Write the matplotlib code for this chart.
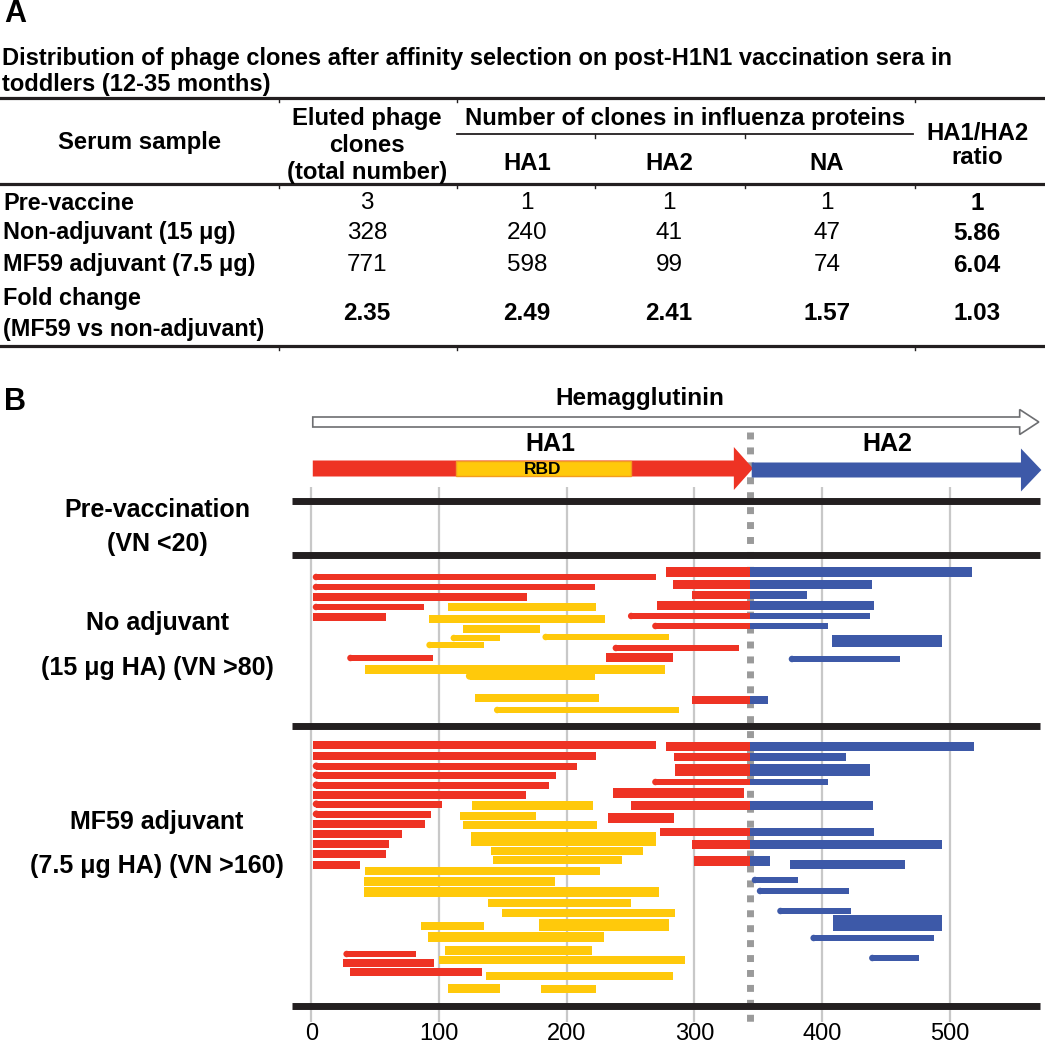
import matplotlib.pyplot as plt
import matplotlib.patches as mpatches

plt.rcParams['font.family'] = ['Liberation Sans', 'DejaVu Sans']

# ---------------- panel A : table ----------------
title_lines = ['Distribution of phage clones after affinity selection on post-H1N1 vaccination sera in',
               'toddlers (12-35 months)']
row_labels = ['Pre-vaccine', 'Non-adjuvant (15 \u03bcg)', 'MF59 adjuvant (7.5 \u03bcg)',
              'Fold change\n(MF59 vs non-adjuvant)']
eluted = ['3', '328', '771', '2.35']
ha1 = ['1', '240', '598', '2.49']
ha2 = ['1', '41', '99', '2.41']
na = ['1', '47', '74', '1.57']
ratio = ['1', '5.86', '6.04', '1.03']

# ---------------- panel B : clone map ----------------
ticks = [0, 100, 200, 300, 400, 500]
boundary = 344          # HA1 / HA2 junction
ha_end = 570
rbd = (113, 250)
group_labels = ['Pre-vaccination\n(VN <20)', 'No adjuvant', '(15 \u03bcg HA) (VN >80)',
                'MF59 adjuvant', '(7.5 \u03bcg HA) (VN >160)']

# no adjuvant clones: start, end, row (px), thickness (px), RBD-only, rounded start
na_start = [1, 278, 1, 283, 1, 298, 1, 107, 271, 1, 92, 248, 119, 267, 109, 181, 408, 90,
            236, 28, 231, 374, 42, 121, 128, 298, 143]
na_end = [270, 518, 222, 439, 169, 388, 88, 223, 441, 58, 230, 438, 179, 405, 148, 280, 494, 135,
          335, 95, 283, 461, 277, 222, 225, 358, 288]
na_row = [577, 572, 587, 584, 597, 595, 607, 607, 605, 617, 619, 616, 629, 626, 638, 637, 641, 645,
          648, 658, 657, 659, 669, 676, 698, 700, 710]
na_h = [6.5, 10, 6.5, 9, 7.5, 7.5, 6.5, 8, 9, 8, 8, 6.5, 7.5, 6.5, 6.5, 6.5, 12, 6.5, 6.5, 6.5, 9,
        6.5, 9, 7.5, 8, 8, 6.5]
na_rbd = [0, 0, 0, 0, 0, 0, 0, 1, 0, 0, 1, 0, 1, 0, 1, 1, 0, 1, 0, 0, 0, 0, 1, 1, 1, 0, 1]
na_round = [1, 0, 1, 0, 0, 0, 1, 0, 0, 0, 0, 1, 0, 1, 1, 1, 0, 1, 1, 1, 0, 1, 0, 1, 0, 0, 1]

# MF59 adjuvant clones
mf_start = [1, 278, 1, 284, 1, 285, 1, 1, 267, 1, 236, 1, 126, 250, 1, 116, 232, 1, 119, 1, 125,
            273, 1, 298, 1, 141, 142, 300, 375, 1, 42, 41, 345, 41, 349, 138, 149, 365, 86, 178,
            409, 91, 391, 105, 25, 437, 25, 100, 30, 137, 107, 180]
mf_end = [270, 519, 223, 419, 208, 438, 192, 186, 405, 168, 339, 102, 221, 440, 94, 176, 284, 89,
          224, 71, 270, 441, 61, 494, 58, 260, 243, 359, 465, 38, 226, 191, 381, 272, 421, 250,
          285, 423, 135, 280, 494, 229, 488, 220, 82, 476, 96, 293, 134, 283, 148, 223]
mf_row = [745, 746, 756, 757, 766, 770, 775, 785, 782, 795, 793, 804, 805, 805, 814, 816, 818, 824,
          825, 834, 839, 832, 844, 844, 854, 851, 860, 861, 864, 865, 871, 881, 880, 892, 891, 903,
          913, 911, 926, 925, 923, 937, 938, 950, 954, 958, 963, 960, 972, 976, 988, 989]
mf_h = [7.5, 9, 7.5, 8, 7, 12, 7, 7, 6.5, 7.5, 10, 7, 9, 9, 7, 8, 10, 7.5, 8, 7.5, 14, 8, 8, 9,
        8, 8, 8, 10, 9, 7.5, 8, 9, 6.5, 10, 6.5, 8, 8, 6.5, 8, 12, 16, 10, 6.5, 9, 6.5, 6.5, 8, 8,
        8, 8, 9, 8]
mf_rbd = [0, 0, 0, 0, 0, 0, 0, 0, 0, 0, 0, 0, 1, 0, 0, 1, 0, 0, 1, 0, 1, 0, 0, 0, 0, 1, 1, 0,
          0, 0, 1, 1, 0, 1, 0, 1, 1, 0, 1, 1, 0, 1, 0, 1, 0, 0, 0, 1, 0, 1, 1, 1]
mf_round = [0, 0, 0, 0, 1, 0, 1, 1, 1, 0, 0, 1, 0, 0, 1, 0, 0, 0, 0, 0, 0, 0, 0, 0, 0, 0, 0, 0,
            0, 0, 0, 0, 1, 0, 1, 0, 0, 1, 0, 0, 0, 0, 1, 0, 1, 1, 0, 0, 0, 0, 0, 0]

RED = '#ee3324'
YEL = '#ffc90b'
BLUE = '#3d59a8'
BLACK = '#231f20'
PX = 1.276   # pixels per residue

fig = plt.figure(figsize=(10.45, 10.5), dpi=100)
axA = fig.add_axes([0, 0, 1, 1])
axA.set_xlim(0, 1045)
axA.set_ylim(1050, 0)
axA.axis('off')
axB = fig.add_axes([0, 0, 1, 1])
axB.set_xlim(-311.5 / PX, (1045 - 311.5) / PX)
axB.set_ylim(1050, 0)
axB.axis('off')

# ---- table ----
axA.text(4, 14, 'A', fontsize=22, fontweight='bold', va='center')
axA.text(2, 59, title_lines[0], fontsize=17, fontweight='bold', va='center')
axA.text(2, 85, title_lines[1], fontsize=17, fontweight='bold', va='center')
for yy in [98, 184, 346]:
    axA.plot([0, 1045], [yy, yy], color=BLACK, lw=2.3)
axA.plot([457, 913], [134, 134], color=BLACK, lw=1.3)
for xx in [279, 457, 915]:
    axA.plot([xx, xx], [98, 102], color=BLACK, lw=1)
    axA.plot([xx, xx], [346, 350], color=BLACK, lw=1)
for xx in [279, 457, 595, 745, 915]:
    axA.plot([xx, xx], [184, 188], color=BLACK, lw=1)
for xx in [595, 745]:
    axA.plot([xx, xx], [134, 138], color=BLACK, lw=1)

hk = dict(fontsize=17.2, fontweight='bold', ha='center', va='center')
axA.text(140, 143, 'Serum sample', **hk)
axA.text(367, 118, 'Eluted phage', **hk)
axA.text(367, 145, 'clones', **hk)
axA.text(367, 172, '(total number)', **hk)
axA.text(685, 118, 'Number of clones in influenza proteins', **hk)
for xx, lab in zip([527, 669, 827], ['HA1', 'HA2', 'NA']):
    axA.text(xx, 163, lab, **hk)
axA.text(977, 133, 'HA1/HA2', **hk)
axA.text(977, 158, 'ratio', **hk)

row_y = [203, 233, 265, 314]
col_x = [367, 527, 669, 827, 977]
for i, lab in enumerate(row_labels):
    axA.text(3, row_y[i], lab, fontsize=16.8, fontweight='bold', va='center', ha='left',
             linespacing=1.4)
    for j, col in enumerate([eluted, ha1, ha2, na, ratio]):
        bold = (i == 3) or (j == 4)
        axA.text(col_x[j], row_y[i], col[i], fontsize=17.5,
                 fontweight='bold' if bold else 'normal', ha='center', va='center')

# ---- panel B ----
axA.text(4, 402, 'B', fontsize=22, fontweight='bold', va='center')
axA.text(640, 398, 'Hemagglutinin', fontsize=17.5, fontweight='bold', ha='center', va='center')
axA.text(550, 444, 'HA1', fontsize=18, fontweight='bold', ha='center', va='center')
axA.text(887, 444, 'HA2', fontsize=18, fontweight='bold', ha='center', va='center')

lab_y = [527, 623, 668, 822, 866]
for yy, lab in zip(lab_y, group_labels):
    axA.text(157, yy, lab, fontsize=18, fontweight='bold', ha='center', va='center',
             linespacing=1.5)

axB.vlines(ticks, 487, 1022, color='#c8c8c8', lw=1.6, zorder=1)
for t in ticks:
    axB.text(t, 1034, str(t), fontsize=17, ha='center', va='center')
axB.plot([boundary, boundary], [432, 1026], color='#9a9a9a', lw=5,
         linestyle=(0, (1.0, 1.15)), zorder=2)
axB.hlines([501, 555, 726, 1006], -15, 571, color=BLACK, lw=5, zorder=2)

axB.add_patch(mpatches.FancyArrow(1, 422, ha_end - 1, 0, width=10, head_width=25,
                                  head_length=15, length_includes_head=True,
                                  fc='white', ec='#6d6e71', lw=1.2, zorder=3))
axB.add_patch(mpatches.FancyArrow(1, 468.5, boundary + 1, 0, width=16, head_width=43,
                                  head_length=15, length_includes_head=True,
                                  fc=RED, ec='none', zorder=3))
axB.add_patch(mpatches.FancyArrow(boundary + 1, 470, ha_end + 2 - boundary - 1, 0, width=15,
                                  head_width=43, head_length=16, length_includes_head=True,
                                  fc=BLUE, ec='none', zorder=3))
axB.add_patch(mpatches.Rectangle((rbd[0], 461), rbd[1] - rbd[0], 15, fc=YEL, ec='#f39c1f',
                                 lw=1, zorder=4))
axB.text((rbd[0] + rbd[1]) / 2, 469, 'RBD', fontsize=12.5, fontweight='bold', ha='center',
         va='center', zorder=5)


def draw_clones(ax, start, end, row, h, only_rbd, rnd):
    for s, e, y, t, yl, r in zip(start, end, row, h, only_rbd, rnd):
        if yl:
            segs = [(s, e, YEL)]
        else:
            segs = []
            if s < boundary:
                segs.append((s, min(e, boundary), RED))
            if e > boundary:
                segs.append((max(s, boundary), e, BLUE))
        for a, b, c in segs:
            x0 = a
            if r and a == s:
                x0 = s + t / 2 / PX
                ax.add_patch(mpatches.Ellipse((x0, y), t / PX, t, fc=c, ec='none', zorder=4))
            ax.barh(y, b - x0, left=x0, height=t, color=c, lw=0, zorder=4)


draw_clones(axB, na_start, na_end, na_row, na_h, na_rbd, na_round)
draw_clones(axB, mf_start, mf_end, mf_row, mf_h, mf_rbd, mf_round)

fig.savefig('out.png', dpi=100)
